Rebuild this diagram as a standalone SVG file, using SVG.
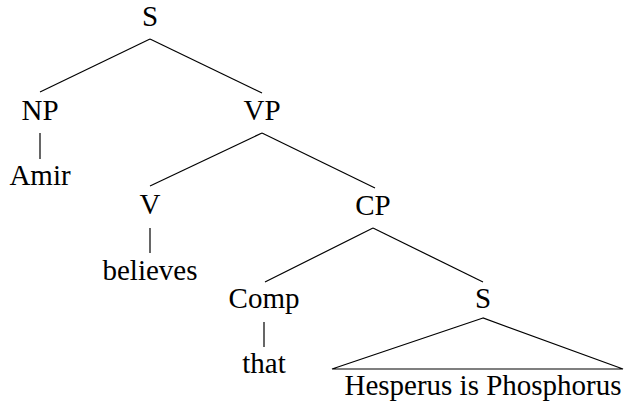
<svg xmlns="http://www.w3.org/2000/svg" width="624" height="407" viewBox="0 0 624 407">
<style>
text{font-family:"Liberation Serif","Times New Roman",serif;font-size:29px;fill:#000;text-anchor:middle}
line,polygon{stroke:#000;stroke-width:1.2;fill:none}
</style>
<rect width="624" height="407" fill="#fff"/>
<g id="connectors">
<line x1="150" y1="39" x2="40" y2="92"/>
<line x1="150" y1="39" x2="262" y2="93"/>
<line x1="40" y1="133" x2="40" y2="159"/>
<line x1="262" y1="133" x2="150" y2="186"/>
<line x1="262" y1="133" x2="375" y2="188"/>
<line x1="150" y1="228" x2="150" y2="253"/>
<line x1="373" y1="228" x2="265" y2="282"/>
<line x1="373" y1="228" x2="483" y2="282"/>
<line x1="264" y1="322" x2="264" y2="347"/>
<polygon points="483,318 332,369 623,369"/>
</g>
<g id="n-S"><text x="150" y="26">S</text></g>
<g id="n-NP"><text x="40" y="120">NP</text></g>
<g id="n-Amir"><text x="40" y="185">Amir</text></g>
<g id="n-VP"><text x="262" y="120">VP</text></g>
<g id="n-V"><text x="150" y="214">V</text></g>
<g id="n-believes"><text x="150" y="280">believes</text></g>
<g id="n-CP"><text x="373" y="215">CP</text></g>
<g id="n-Comp"><text x="264" y="308">Comp</text></g>
<g id="n-that"><text x="264" y="373">that</text></g>
<g id="n-S2"><text x="483" y="308">S</text></g>
<g id="n-HiP"><text x="483" y="395">Hesperus is Phosphorus</text></g>
</svg>
